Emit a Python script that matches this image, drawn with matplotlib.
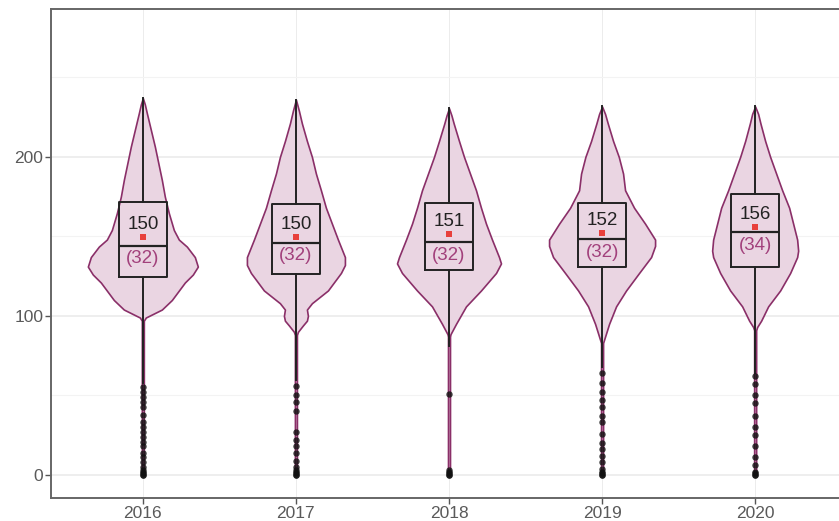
import numpy as np
import matplotlib
matplotlib.use("Agg")
import matplotlib.pyplot as plt

years = ["2016", "2017", "2018", "2019", "2020"]

# violin outlines: value levels and relative density (half width)
levels_2016 = [0, 60, 97, 99, 104, 110, 121, 126, 131, 137, 143.6, 148, 154, 164.6, 175, 185.5, 196, 206.5, 217, 227.5, 233, 237]
dens_2016 = [1, 1, 1, 3, 19, 29, 42, 50, 55, 52, 44, 36, 31, 26, 22, 19, 15.5, 12, 8, 4, 2, 0]
levels_2017 = [0, 60, 88, 90, 94, 97, 100, 104, 108, 116, 127, 132, 137, 148, 158, 168, 179, 189.5, 200, 210, 221, 229, 236]
dens_2017 = [1, 1, 1, 2, 7, 11, 12, 11, 16, 32, 45, 49, 49, 42, 36, 30, 25, 20, 16, 11, 6, 3, 0]
levels_2018 = [0, 60, 87, 88.5, 95, 106, 116, 127, 133, 137, 148, 158, 168, 179, 189.5, 200, 210, 221, 226, 230.6]
dens_2018 = [1, 1, 1, 1.5, 7, 17, 32, 47, 52, 50, 43, 37, 32, 27, 21, 15, 10, 4.7, 2.5, 0]
levels_2019 = [0, 60, 83, 85, 95, 106, 116, 127, 137, 144, 148, 158, 168, 179, 189.5, 200, 210, 221, 227, 231.7]
dens_2019 = [1, 1, 1, 2, 7, 14, 24, 37, 49, 53, 53, 43, 32, 23, 21, 16.7, 11, 5.7, 3, 0]
levels_2020 = [0, 60, 91, 93, 97, 106, 116, 127, 137, 141, 148, 158, 168, 179, 189.5, 200, 210, 221, 227, 231.7]
dens_2020 = [1, 1, 1, 2, 6, 13, 25, 35, 42, 43, 42, 38, 34, 27, 21, 15, 10, 5.3, 3, 0]

levels = [levels_2016, levels_2017, levels_2018, levels_2019, levels_2020]
dens = [dens_2016, dens_2017, dens_2018, dens_2019, dens_2020]

# box statistics
q1 = [124.5, 126.2, 128.9, 130.6, 131.0]
median = [144.0, 146.1, 146.3, 148.2, 152.6]
q3 = [171.5, 170.4, 171.3, 171.3, 176.5]
whis_lo = [58, 60, 81, 68, 64]
whis_hi = [237, 236, 230.6, 231.7, 231.7]
means = [149.8, 149.9, 151.2, 152.3, 155.6]
sds = [32, 32, 32, 32, 34]

fliers_2016 = [55, 52, 49, 46, 43, 38, 33, 30, 27, 24, 21, 18, 14, 11, 8, 5, 3, 2, 1, 0, 0]
fliers_2017 = [56, 50, 46, 40, 27, 22, 18, 14, 9, 5, 3, 2, 1, 0, 0]
fliers_2018 = [51, 3, 2, 1, 0, 0]
fliers_2019 = [64, 58, 52, 47, 43, 37, 33, 26, 20, 16, 12, 8, 4, 2, 1, 0, 0]
fliers_2020 = [62, 57, 50, 45, 37, 30, 25, 18, 11, 6, 2, 1, 0, 0]
fliers = [fliers_2016, fliers_2017, fliers_2018, fliers_2019, fliers_2020]

plt.rcParams['font.family'] = ['Liberation Sans', 'DejaVu Sans']

fig = plt.figure(figsize=(8.39, 5.21), dpi=100)
ax = fig.add_axes([51 / 839, 23 / 521, 796 / 839, 489 / 521])
ax.set_xlim(0.4, 5.6)
ax.set_ylim(-14.5, 293)

pos = np.arange(1, len(years) + 1)
px_per_unit = 796 / 5.2

vpstats = []
widths = []
for i in range(len(years)):
    vpstats.append({
        'coords': np.array(levels[i], dtype=float),
        'vals': np.array(dens[i], dtype=float),
        'mean': means[i], 'median': median[i],
        'min': levels[i][0], 'max': levels[i][-1],
    })
    widths.append(2 * max(dens[i]) / px_per_unit)

parts = ax.violin(vpstats, positions=pos, widths=widths, showextrema=False)
for body in parts['bodies']:
    body.set_facecolor('#ead5e2')
    body.set_edgecolor('#8a2f68')
    body.set_linewidth(1.2)
    body.set_alpha(1)
    body.set_zorder(2)

bxpstats = []
for i in range(len(years)):
    bxpstats.append({'med': median[i], 'q1': q1[i], 'q3': q3[i],
                     'whislo': whis_lo[i], 'whishi': whis_hi[i],
                     'fliers': fliers[i]})

ax.bxp(bxpstats, positions=pos, widths=0.31, showcaps=False, manage_ticks=False,
       boxprops=dict(color='#222222', linewidth=1.4),
       medianprops=dict(color='#222222', linewidth=1.6),
       whiskerprops=dict(color='#222222', linewidth=1.4),
       flierprops=dict(marker='o', markerfacecolor='#111111', markeredgecolor='#111111',
                       markersize=4.6, markeredgewidth=0, alpha=0.8),
       zorder=3)

ax.scatter(pos, means, color='#e8403c', marker='s', s=20, zorder=4, linewidths=0)

for i in range(len(years)):
    ax.annotate(f"{means[i]:.0f}", (pos[i], means[i]), xytext=(0, 9), textcoords='offset points',
                ha='center', va='center', fontsize=13.5, color='#222222', zorder=5)
    ax.annotate(f"({sds[i]})", (pos[i], median[i]), xytext=(0, -9.2), textcoords='offset points',
                ha='center', va='center', fontsize=13.5, color='#a2417c', zorder=5)

ax.set_xticks(pos)
ax.set_xticklabels(years)
ax.set_yticks([0, 100, 200])
ax.set_yticks([50, 150, 250], minor=True)
ax.tick_params(axis='both', which='major', length=4, width=1, color='#555555',
               labelsize=12.5, labelcolor='#5a5a5a', pad=1.5)
ax.tick_params(axis='y', which='minor', length=0)

ax.grid(True, which='major', axis='y', color='#e9e9e9', linewidth=1.1, zorder=0)
ax.grid(True, which='minor', axis='y', color='#f3f3f3', linewidth=0.8, zorder=0)
ax.grid(True, which='major', axis='x', color='#ececec', linewidth=0.7, zorder=0)
ax.set_axisbelow(True)

for side in ['left', 'bottom', 'top', 'right']:
    ax.spines[side].set_color('#666666')
    ax.spines[side].set_linewidth(1.4)

fig.savefig('out.png', dpi=100)
